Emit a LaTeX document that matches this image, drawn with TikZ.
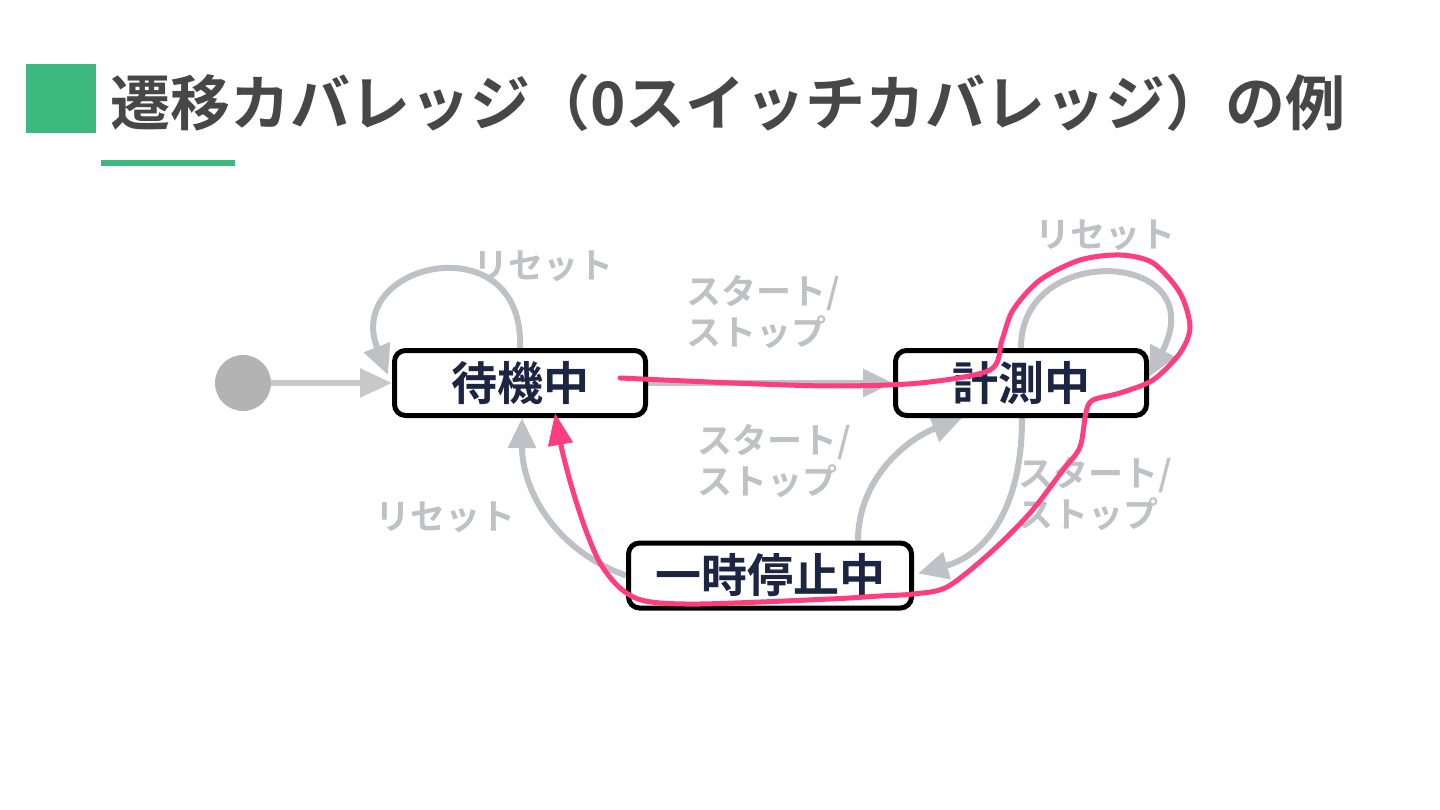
\documentclass[tikz,border=0pt]{standalone}
\usepackage{fontspec}
\setmainfont{Noto Sans CJK JP}[BoldFont={Noto Sans CJK JP Bold}]
\usetikzlibrary{arrows.meta,backgrounds}
\definecolor{tgreen}{HTML}{3DB87F}
\definecolor{ttext}{HTML}{474747}
\definecolor{navy}{HTML}{1C2541}
\definecolor{lgray}{HTML}{BFC1C6}
\definecolor{igray}{HTML}{B3B3B3}
\definecolor{iline}{HTML}{C8C8C8}
\definecolor{tpink}{HTML}{FF3D7F}
\begin{document}
\begin{tikzpicture}[x=1pt,y=-1pt,
  state/.style={draw=black, line width=5pt, rounded corners=11pt, fill=white, minimum height=65pt, inner sep=0pt, font=\fontsize{46}{50}\selectfont\bfseries, text=navy},
  garrow/.style={draw=lgray, line width=6pt, -{Triangle[length=30pt,width=27pt]}},
  iarrow/.style={draw=iline, line width=6pt, -{Triangle[length=32pt,width=28pt]}},
  glabel/.style={text=lgray, font=\fontsize{35}{41}\selectfont\bfseries, align=left, inner sep=0pt},
  trace/.style={draw=tpink, line width=5pt, line cap=round, line join=round, -{Triangle[length=32pt,width=24pt]}}]
\useasboundingbox (0,0) rectangle (1440,810);
% title
\fill[tgreen] (26,64) rectangle (96,133);
\node[anchor=base west, text=ttext, font=\fontsize{60}{60}\selectfont\bfseries, inner sep=0pt] (title) at (110,126) {遷移カバレッジ（0スイッチカバレッジ）の例};
\fill[tgreen] (101,160) rectangle (235,166);
% states
\node[circle, fill=igray, minimum size=56pt, inner sep=0pt] (init) at (243,383) {};
\node[state, minimum width=251pt] (wait) at (520,383) {待機中};
\node[state, minimum width=251pt] (meas) at (1021,383) {計測中};
\node[state, minimum width=283pt] (pause) at (770,575.5) {一時停止中};
% connectors (behind the boxes)
\begin{pgfonlayer}{background}
\fill[white] (0,0) rectangle (1440,810);
\draw[iarrow] (init) -- (wait.west);
\draw[garrow] (wait.north) .. controls (525,222) and (343,262) .. ([shift={(-4pt,-27pt)}]wait.north west);
\draw[garrow] (meas.north) .. controls (1020,240) and (1215,250) .. ([yshift=6pt]meas.east);
\draw[garrow] (wait.east) -- (meas.west);
\draw[garrow] ([xshift=88pt]pause.north) .. controls (858,480) and (905,440) .. ([xshift=-59pt]meas.south);
\draw[garrow] ([xshift=1pt]meas.south) .. controls (1022,510) and (985,555) .. ([shift={(4pt,2pt)}]pause.east);
\draw[garrow] (pause.west) .. controls (555,550) and (522,490) .. ([xshift=2pt]wait.south);
\end{pgfonlayer}
% labels
\node[glabel] (l2) at (543,266) {リセット};
\node[glabel] (l3) at (1105,235) {リセット};
\node[glabel, anchor=west] (l1) at (686,312) {スタート/\\ストップ};
\node[glabel, anchor=west] (l4) at (697,461) {スタート/\\ストップ};
\node[glabel, anchor=west] (l5) at (1018,494) {スタート/\\ストップ};
\node[glabel] (l6) at (445,517) {リセット};
% trace
\draw[trace] plot[smooth, tension=0.5] coordinates {(620,378) (733,383) (833,386) (920,383) (990,370) (1002,340) (1013,310) (1040,280) (1080,260) (1120,255) (1153,263) (1180,293) (1190,327) (1180,353) (1153,380) (1120,393) (1093,400) (1086,412) (1080,447) (1063,470) (1030,513) (990,553) (947,587) (913,594) (880,596) (830,599) (700,604) (645,601) (620,588) (600,563) (585,528) (572,488) (562,450) (555,413)};
\end{tikzpicture}
\end{document}
